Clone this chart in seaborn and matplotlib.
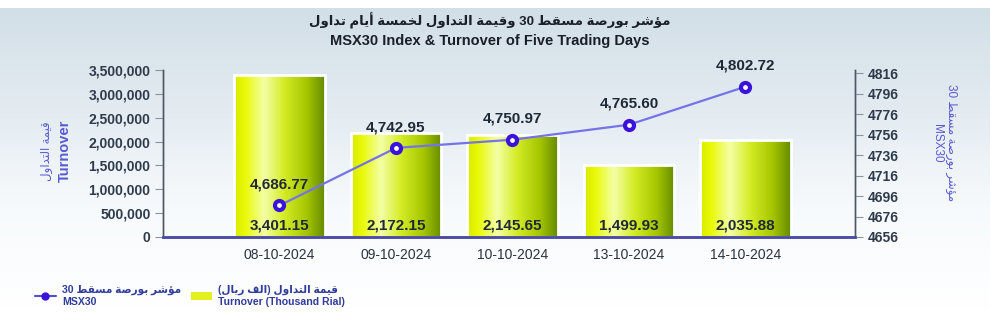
import re

import numpy as np
import pandas as pd
import matplotlib
matplotlib.use('Agg')
import matplotlib.pyplot as plt
import seaborn as sns
from matplotlib.colors import LinearSegmentedColormap
from matplotlib.lines import Line2D
from matplotlib.patches import Patch

# data
dates = ["08-10-2024", "09-10-2024", "10-10-2024", "13-10-2024", "14-10-2024"]
turnover = [3401.15, 2172.15, 2145.65, 1499.93, 2035.88]   # thousand rial
msx30 = [4686.77, 4742.95, 4750.97, 4765.60, 4802.72]

title_ar = "مؤشر بورصة مسقط 30 وقيمة التداول لخمسة أيام تداول"
title_en = "MSX30 Index & Turnover of Five Trading Days"
turnover_ar = "قيمة التداول"
msx_ar = "مؤشر بورصة مسقط 30"
legend_bar_ar = "قيمة التداول (الف ريال)"

# tiny arabic shaper: isolated, final, initial, medial presentation forms
FORMS = {
    'ا': (0xFE8D, 0xFE8E, None, None), 'أ': (0xFE83, 0xFE84, None, None),
    'ؤ': (0xFE85, 0xFE86, None, None), 'ب': (0xFE8F, 0xFE90, 0xFE91, 0xFE92),
    'ة': (0xFE93, 0xFE94, None, None), 'ت': (0xFE95, 0xFE96, 0xFE97, 0xFE98),
    'خ': (0xFEA5, 0xFEA6, 0xFEA7, 0xFEA8), 'د': (0xFEA9, 0xFEAA, None, None),
    'ر': (0xFEAD, 0xFEAE, None, None), 'س': (0xFEB1, 0xFEB2, 0xFEB3, 0xFEB4),
    'ش': (0xFEB5, 0xFEB6, 0xFEB7, 0xFEB8), 'ص': (0xFEB9, 0xFEBA, 0xFEBB, 0xFEBC),
    'ط': (0xFEC1, 0xFEC2, 0xFEC3, 0xFEC4), 'ف': (0xFED1, 0xFED2, 0xFED3, 0xFED4),
    'ق': (0xFED5, 0xFED6, 0xFED7, 0xFED8), 'ل': (0xFEDD, 0xFEDE, 0xFEDF, 0xFEE0),
    'م': (0xFEE1, 0xFEE2, 0xFEE3, 0xFEE4), 'و': (0xFEED, 0xFEEE, None, None),
    'ي': (0xFEF1, 0xFEF2, 0xFEF3, 0xFEF4),
}


def ar(text):
    out = []
    for i, ch in enumerate(text):
        if ch not in FORMS:
            out.append(ch)
            continue
        prev = text[i - 1] if i > 0 else ''
        nxt = text[i + 1] if i + 1 < len(text) else ''
        iso, fin, ini, med = FORMS[ch]
        jp = prev in FORMS and FORMS[prev][2] is not None
        jn = nxt in FORMS and ini is not None
        if jp and jn:
            g = med
        elif jp:
            g = fin
        elif jn:
            g = ini
        else:
            g = iso
        out.append(chr(g))
    vis = ''.join(reversed(out)).translate(str.maketrans('()', ')('))
    return re.sub(r'\d+', lambda m: m.group(0)[::-1], vis)


df = pd.DataFrame({"date": dates, "turnover": turnover, "msx30": msx30})
df["turnover_rial"] = df["turnover"] * 1000

sns.set_style("white")
plt.rcParams['font.family'] = ['Liberation Sans', 'DejaVu Sans']

fig = plt.figure(figsize=(10, 3.21), dpi=100)
fig.patch.set_facecolor('white')

# background panel gradient
bg = fig.add_axes([0, 0.035, 0.99, 0.94], zorder=-10)
grad = np.linspace(0, 1, 256).reshape(-1, 1)
bg_cmap = LinearSegmentedColormap.from_list("bg", ["#d2dfe7", "#e3ebf1", "#f7fafc", "#ffffff"])
bg.imshow(grad, aspect='auto', cmap=bg_cmap, extent=[0, 1, 0, 1])
bg.axis('off')

ax = fig.add_axes([0.163, 0.2617, 0.692, 0.520])
ax.patch.set_alpha(0)
ax2 = ax.twinx()

sns.barplot(data=df, x="date", y="turnover_rial", order=dates, ax=ax, width=0.78,
            color="#e0ee20", errorbar=None, zorder=2)

bar_cmap = LinearSegmentedColormap.from_list(
    "bar", [(0, "#d8ea00"), (0.12, "#e9f906"), (0.33, "#f4ffa6"), (0.55, "#d4ec26"),
            (0.8, "#a6c600"), (1, "#658b00")])
hgrad = np.linspace(0, 1, 256).reshape(1, -1)
for p in ax.patches:
    x0, y0 = p.get_x(), p.get_y()
    im = ax.imshow(hgrad, cmap=bar_cmap, aspect='auto', zorder=1.5,
                   extent=[x0, x0 + p.get_width(), y0, y0 + p.get_height()])
    im.set_clip_path(p)
    p.set_facecolor('none')
    p.set_edgecolor('white')
    p.set_linewidth(2)

sns.pointplot(data=df, x="date", y="msx30", order=dates, ax=ax2, color="#7474e8",
              errorbar=None, markers='o', linestyles='-')
for ln in ax2.lines:
    ln.set_linewidth(1.6)
    ln.set_markersize(6.5)
    ln.set_markerfacecolor('white')
    ln.set_markeredgecolor('#3a12dc')
    ln.set_markeredgewidth(3.0)
    ln.set_zorder(5)

ax.set_xlim(-1.0, 4.94)
ax.set_ylim(0, 3500000)
ax2.set_ylim(4656, 4656 + 160 * 167 / 164)
ax.set_yticks(np.arange(0, 3500001, 500000))
ax.set_yticklabels([f"{v:,.0f}" for v in np.arange(0, 3500001, 500000)])
ax2.set_yticks(np.arange(4656, 4817, 20))

tick_col = '#2f3b4c'
ax.tick_params(axis='y', length=6, width=0.8, color='#8a94a0', labelsize=10,
               labelcolor=tick_col, pad=3, left=True)
ax2.tick_params(axis='y', length=6, width=0.8, color='#8a94a0', labelsize=10,
                labelcolor=tick_col, pad=3, right=True)
ax.tick_params(axis='x', length=0, labelsize=10, labelcolor='#2a3340', pad=8)
for lab in ax.get_yticklabels() + ax2.get_yticklabels():
    lab.set_fontweight('bold')

for a in (ax, ax2):
    a.set_xlabel("")
    a.set_ylabel("")
    a.spines['top'].set_visible(False)
    a.spines['left'].set_color('#4d5662')
    a.spines['right'].set_color('#4d5662')
    a.spines['left'].set_linewidth(1.0)
    a.spines['right'].set_linewidth(1.0)
    a.spines['bottom'].set_color('#4b4ba6')
    a.spines['bottom'].set_linewidth(1.8)
ax2.patch.set_alpha(0)

# value labels
for i, v in enumerate(turnover):
    ax.annotate(f"{v:,.2f}", (i, 0), xytext=(0, 3), textcoords='offset points',
                ha='center', va='bottom', fontsize=11, fontweight='bold',
                color='#1f2a36', zorder=6)
for i, v in enumerate(msx30):
    ax2.annotate(f"{v:,.2f}", (i, v), xytext=(0, 10), textcoords='offset points',
                 ha='center', va='bottom', fontsize=11, fontweight='bold',
                 color='#1f2a36', zorder=6)

# axis titles
lab_col = '#5a5ad2'
fig.text(0.047, 0.53, ar(turnover_ar), rotation=90, ha='center', va='center',
         fontsize=8.5, color=lab_col)
fig.text(0.065, 0.53, "Turnover", rotation=90, ha='center', va='center',
         fontsize=10.5, fontweight='bold', color=lab_col)
fig.text(0.951, 0.555, ar(msx_ar), rotation=270, ha='center', va='center',
         fontsize=8.5, color=lab_col)
fig.text(0.937, 0.555, "MSX30", rotation=270, ha='center', va='center',
         fontsize=8.5, color=lab_col)

# title
fig.text(0.49, 0.935, ar(title_ar), ha='center', va='center', fontsize=9.5,
         fontweight='bold', color='#1a1f28')
fig.text(0.49, 0.873, title_en, ha='center', va='center', fontsize=10.5,
         fontweight='bold', color='#1a1f28')

# legend
handles = [Line2D([], [], color='#5050d0', lw=1.5, marker='o', markersize=5,
                  markerfacecolor='#3a12dc', markeredgecolor='#3a12dc'),
           Patch(facecolor='#e2f020', edgecolor='none')]
labels = [ar(msx_ar) + "\nMSX30", ar(legend_bar_ar) + "\nTurnover (Thousand Rial)"]
leg = fig.legend(handles, labels, loc='lower left', bbox_to_anchor=(0.025, 0.015),
                 ncol=2, frameon=False, fontsize=7.6, columnspacing=0.9,
                 handlelength=2.0, handletextpad=0.6, labelspacing=0.2)
for t in leg.get_texts():
    t.set_color('#303c9c')
    t.set_fontweight('bold')

fig.savefig('out.png', dpi=100)
